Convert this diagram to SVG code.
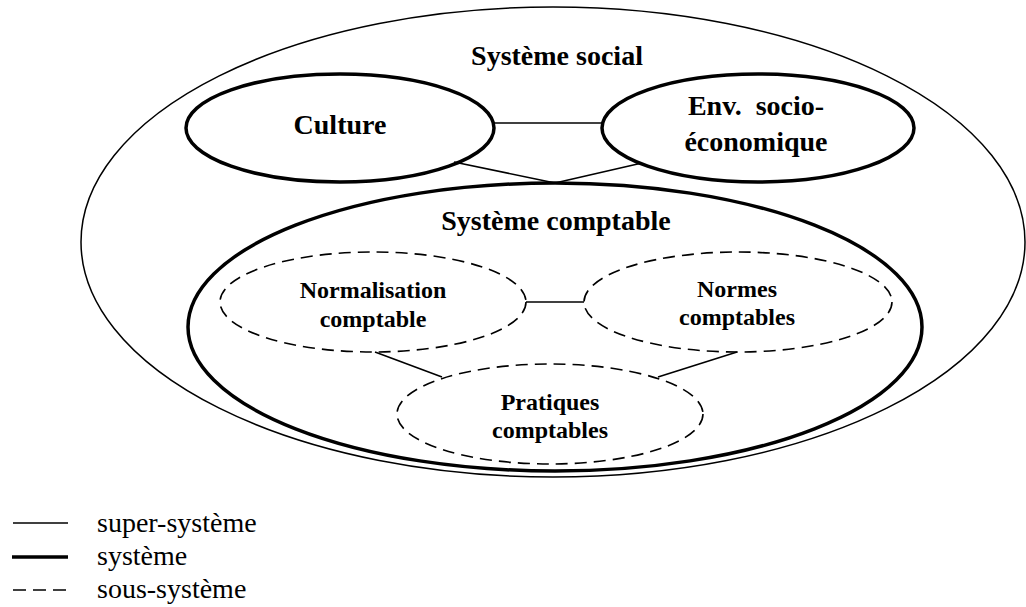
<svg xmlns="http://www.w3.org/2000/svg" width="1026" height="607" viewBox="0 0 1026 607">
<style>
.thin{fill:none;stroke:#000;stroke-width:1.5}
.thick{fill:none;stroke:#000;stroke-width:3.5}
.dash{fill:none;stroke:#000;stroke-width:1.6;stroke-dasharray:12 7}
.conn{stroke:#000;stroke-width:1.6;fill:none}
.lb{font-family:"Liberation Serif","Times New Roman",serif;font-weight:bold;font-size:28px;text-anchor:middle;fill:#000}
.ls{font-family:"Liberation Serif","Times New Roman",serif;font-weight:bold;font-size:24px;text-anchor:middle;fill:#000}
.lg{font-family:"Liberation Serif","Times New Roman",serif;font-size:28px;fill:#000}
</style>
<rect width="1026" height="607" fill="#fff"/>
<g id="systeme-social">
<ellipse class="thin" cx="553" cy="242" rx="472" ry="235"/>
<text class="lb" x="557" y="65">Système social</text>
</g>
<g id="culture">
<ellipse class="thick" cx="340" cy="128" rx="154" ry="54"/>
<text class="lb" x="340" y="134">Culture</text>
</g>
<g id="env-socio-economique">
<ellipse class="thick" cx="758" cy="128" rx="156" ry="54"/>
<text class="lb" x="756" y="115">Env.&#160; socio-</text>
<text class="lb" x="756" y="151">économique</text>
</g>
<g id="systeme-comptable">
<ellipse class="thick" cx="555" cy="327" rx="367" ry="144"/>
<text class="lb" x="556" y="230">Système comptable</text>
</g>
<g id="normalisation-comptable">
<ellipse class="dash" cx="373" cy="302" rx="153" ry="50"/>
<text class="ls" x="373" y="298">Normalisation</text>
<text class="ls" x="373" y="327">comptable</text>
</g>
<g id="normes-comptables">
<ellipse class="dash" cx="738" cy="302" rx="154" ry="50"/>
<text class="ls" x="737" y="297">Normes</text>
<text class="ls" x="737" y="325">comptables</text>
</g>
<g id="pratiques-comptables">
<ellipse class="dash" cx="550" cy="414" rx="153" ry="50"/>
<text class="ls" x="550" y="410">Pratiques</text>
<text class="ls" x="550" y="438">comptables</text>
</g>
<g id="connectors">
<line class="conn" x1="494" y1="123" x2="602" y2="123"/>
<line class="conn" x1="454" y1="162" x2="555" y2="183"/>
<line class="conn" x1="642" y1="163" x2="555" y2="183"/>
<line class="conn" x1="526" y1="302" x2="584" y2="302"/>
<line class="conn" x1="375" y1="352" x2="442" y2="377"/>
<line class="conn" x1="737" y1="352" x2="658" y2="377"/>
</g>
<g id="legend">
<line class="thin" x1="13" y1="523" x2="68" y2="523"/>
<text class="lg" x="97" y="532">super-système</text>
<line class="thick" x1="12" y1="557" x2="68" y2="557"/>
<text class="lg" x="97" y="565">système</text>
<line class="dash" x1="13" y1="590" x2="68" y2="590" style="stroke-dasharray:13 7"/>
<text class="lg" x="97" y="598">sous-système</text>
</g>
</svg>
